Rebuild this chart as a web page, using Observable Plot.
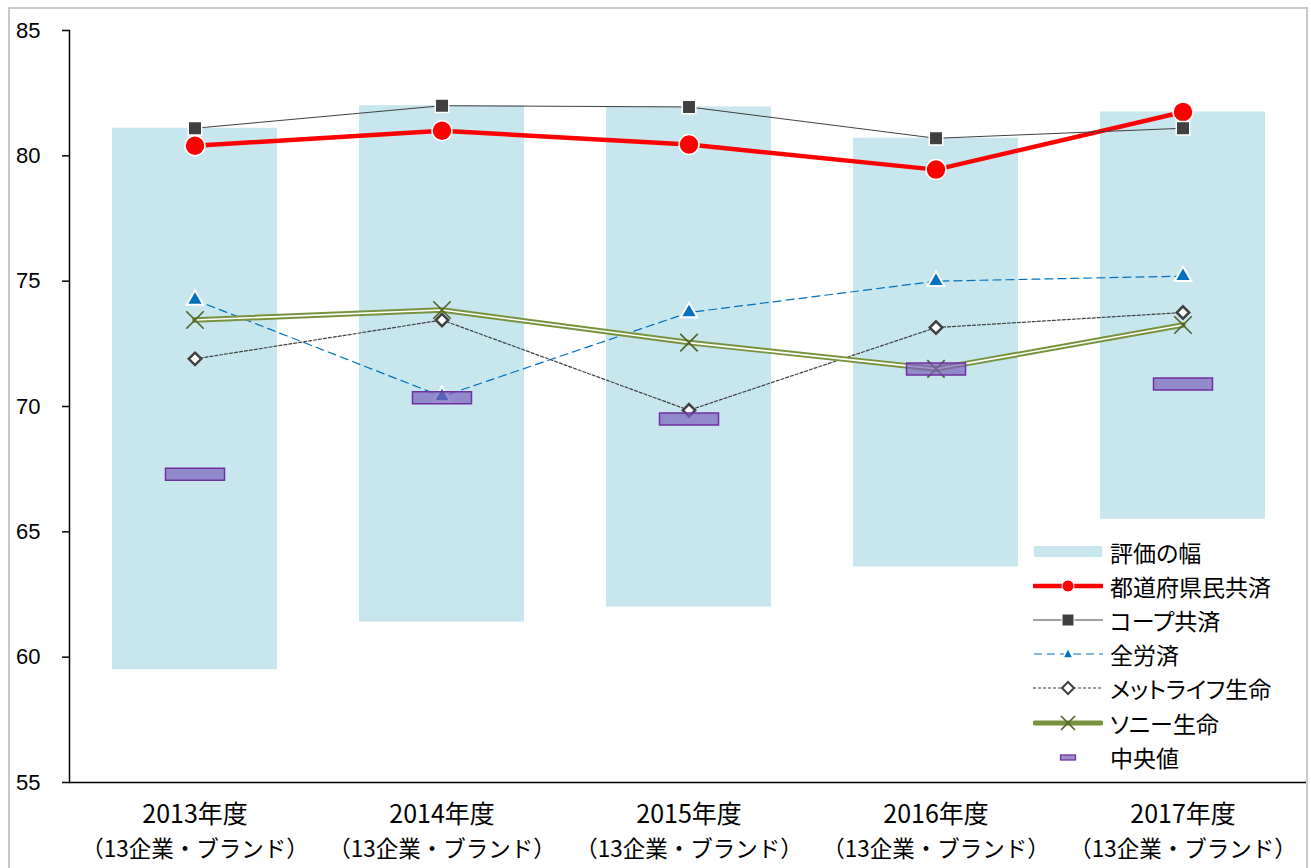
<!DOCTYPE html>
<html><head><meta charset="utf-8">
<script src="https://cdn.jsdelivr.net/npm/d3@7"></script>
<script src="https://cdn.jsdelivr.net/npm/@observablehq/plot@0.6"></script>
<style>
body{margin:0;background:#fff;}
#wrap{position:relative;width:1311px;height:868px;overflow:hidden;background:#fff;}
#border{position:absolute;left:8px;top:7px;width:1300px;height:900px;border:2px solid #c8c8c8;box-sizing:border-box;pointer-events:none;}
#chart{position:absolute;left:0;top:0;}
#legend{position:absolute;left:1033px;top:535px;font-family:"Noto Sans CJK JP";font-size:23px;color:#000;font-feature-settings:"palt";}
.row{display:flex;align-items:center;height:34.1px;line-height:34px;overflow:visible;}
.row svg{width:70px;height:22px;margin-right:7px;flex:none;}
</style></head><body>
<div id="wrap"><div id="chart"></div><div id="border"></div><div id="legend"></div></div>
<script>
// ---- data ----
const categories = ["2013年度", "2014年度", "2015年度", "2016年度", "2017年度"];
const subLabel = "（13企業・ブランド）";
const yTicks = [55, 60, 65, 70, 75, 80, 85];
const rangeLow  = [59.5, 61.4, 62.0, 63.6, 65.5];
const rangeHigh = [81.1, 82.0, 81.95, 80.7, 81.75];
const todofuken = [80.4, 81.0, 80.45, 79.45, 81.75];
const coop      = [81.1, 82.0, 81.95, 80.7, 81.1];
const zenrosai  = [74.25, 70.4, 73.75, 75.0, 75.2];
const metlife   = [71.9, 73.45, 69.85, 73.15, 73.75];
const sony      = [73.45, 73.85, 72.55, 71.5, 73.25];
const median    = [67.3, 70.35, 69.5, 71.5, 70.9];
const seriesNames = ["評価の幅", "都道府県民共済", "コープ共済", "全労済", "メットライフ生命", "ソニー生命", "中央値"];

const rows = categories.map((c, i) => ({
  cat: c, low: rangeLow[i], high: rangeHigh[i], todofuken: todofuken[i], coop: coop[i],
  zenrosai: zenrosai[i], metlife: metlife[i], sony: sony[i], median: median[i]
}));

const medianSymbol = {draw(ctx) { ctx.rect(-29.5, -6, 59, 12); }};

const chart = Plot.plot({
  width: 1311, height: 868,
  marginLeft: 69, marginRight: 3, marginTop: 30, marginBottom: 86,
  style: {fontFamily: "Liberation Sans", fontSize: "20px", color: "#000", background: "transparent"},
  x: {domain: categories, paddingInner: 0.332, paddingOuter: 0.166, axis: null},
  y: {domain: [55, 85], axis: null},
  marks: [
    Plot.barY(rows, {x: "cat", y1: "low", y2: "high", fill: "#c8e6ee"}),
    Plot.axisY({ticks: yTicks, tickSize: 7, tickPadding: 22, fontSize: 22, fontFamily: "Liberation Sans", stroke: "#000", strokeWidth: 1.5, label: null}),
    Plot.axisX({tickSize: 0, tickPadding: 23, fontSize: 25, fontFamily: "Noto Sans CJK JP", label: null}),
    Plot.axisX({tickSize: 0, tickPadding: 59, fontSize: 22.5, fontFamily: "Noto Sans CJK JP", label: null, tickFormat: () => subLabel}),
    Plot.ruleY([55], {stroke: "#000", strokeWidth: 1.5}),
    Plot.frame({anchor: "left", stroke: "#000", strokeWidth: 1.5}),
    // 都道府県民共済
    Plot.line(rows, {x: "cat", y: "todofuken", stroke: "#ff0000", strokeWidth: 4.5}),
    Plot.dot(rows, {x: "cat", y: "todofuken", r: 10, fill: "#ff0000", stroke: "#fff", strokeWidth: 1.5}),
    // コープ共済
    Plot.line(rows, {x: "cat", y: "coop", stroke: "#404040", strokeWidth: 1}),
    Plot.dot(rows, {x: "cat", y: "coop", symbol: "square", r: 7.6, fill: "#404040", stroke: "#fff", strokeWidth: 1.5}),
    // 全労済
    Plot.line(rows, {x: "cat", y: "zenrosai", stroke: "#0070c0", strokeWidth: 1.2, strokeDasharray: "8,5"}),
    Plot.dot(rows, {x: "cat", y: "zenrosai", symbol: "triangle", r: 6.2, fill: "#0070c0", stroke: "#fff", strokeWidth: 2}),
    // メットライフ生命
    Plot.line(rows, {x: "cat", y: "metlife", stroke: "#404040", strokeWidth: 1.2, strokeDasharray: "3,2"}),
    Plot.dot(rows, {x: "cat", y: "metlife", symbol: "diamond2", r: 5.6, fill: "#fff", stroke: "#404040", strokeWidth: 2.5}),
    // ソニー生命
    Plot.line(rows, {x: "cat", y: "sony", stroke: "#77933c", strokeWidth: 5.5}),
    Plot.line(rows, {x: "cat", y: "sony", stroke: "#fff", strokeWidth: 1.6}),
    Plot.dot(rows, {x: "cat", y: "sony", symbol: "times", r: 8, stroke: "#4f6228", strokeWidth: 1.6}),
    // 中央値
    Plot.dot(rows, {x: "cat", y: "median", symbol: medianSymbol, fill: "#7b5fbd", fillOpacity: 0.7, stroke: "#7030a0", strokeWidth: 1.5})
  ]
});
document.getElementById("chart").appendChild(chart);

// ---- legend ----
const sw = {
  "評価の幅": `<rect x="1" y="5" width="68" height="11" fill="#c8e6ee"/>`,
  "都道府県民共済": `<line x1="0" x2="70" y1="11" y2="11" stroke="#ff0000" stroke-width="4.5"/><circle cx="35" cy="11" r="6" fill="#ff0000" stroke="#fff" stroke-width="1"/>`,
  "コープ共済": `<line x1="0" x2="70" y1="11" y2="11" stroke="#404040" stroke-width="1"/><rect x="29" y="5" width="12" height="12" fill="#404040" stroke="#fff" stroke-width="1"/>`,
  "全労済": `<line x1="1" x2="70" y1="11" y2="11" stroke="#0070c0" stroke-width="1.2" stroke-dasharray="8,5"/><path d="M35,5 L40,15 L30,15 Z" fill="#0070c0" stroke="#fff" stroke-width="1.5"/>`,
  "メットライフ生命": `<line x1="0" x2="70" y1="11" y2="11" stroke="#404040" stroke-width="1.2" stroke-dasharray="3,2"/><path d="M35,5 L41,11 L35,17 L29,11 Z" fill="#fff" stroke="#404040" stroke-width="2"/>`,
  "ソニー生命": `<line x1="2" x2="68" y1="11" y2="11" stroke="#77933c" stroke-width="5" stroke-linecap="round"/><path d="M28,4 L42,18 M42,4 L28,18" stroke="#4f6228" stroke-width="1.6"/>`,
  "中央値": `<rect x="27.5" y="9" width="15" height="5" fill="#9e8fc8" stroke="#7030a0" stroke-width="1.3"/>`
};
document.getElementById("legend").innerHTML = seriesNames.map(n =>
  `<div class="row"><svg viewBox="0 0 70 22">${sw[n]}</svg><span>${n}</span></div>`).join("");
</script>
</body></html>
